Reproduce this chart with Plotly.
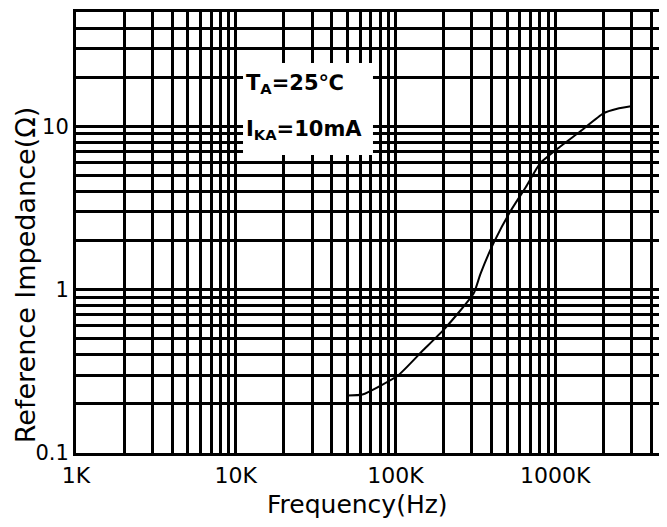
import plotly.graph_objects as go

# Data
freq_hz = [50e3, 62e3, 103e3, 147e3, 204e3, 308e3, 340e3, 414e3, 527e3,
           653e3, 807e3, 1.07e6, 1.43e6, 2.0e6, 2.44e6, 3.03e6]
impedance_ohm = [0.225, 0.228, 0.297, 0.421, 0.58, 0.946, 1.25, 1.96, 3.05,
                 4.24, 5.97, 7.5, 9.3, 12.0, 12.8, 13.3]

x_tick_vals = [1e3, 1e4, 1e5, 1e6]
x_tick_text = ["1K", "10K", "100K", "1000K"]
y_tick_vals = [0.1, 1, 10]
y_tick_text = ["0.1", "1", "10"]

x_minor = [m * 10 ** e for e in range(3, 7) for m in range(2, 10) if m * 10 ** e <= 5e6]
y_minor = [m * 10 ** e for e in range(-1, 2) for m in range(2, 10) if m * 10 ** e <= 50]

FONT = "DejaVu Sans"

fig = go.Figure()
fig.add_trace(go.Scatter(x=freq_hz, y=impedance_ohm, mode="lines",
                         line=dict(color="black", width=2, shape="spline", smoothing=0.5),
                         showlegend=False, hoverinfo="skip"))

grid_w = 2.5
fig.update_xaxes(type="log", range=[3, 6.699], automargin=False,
                 tickmode="array", tickvals=x_tick_vals, ticktext=x_tick_text,
                 showgrid=True, gridcolor="black", gridwidth=grid_w,
                 minor=dict(tickmode="array", tickvals=x_minor, showgrid=True,
                            gridcolor="black", gridwidth=grid_w, ticks=""),
                 showline=True, linecolor="black", linewidth=3, mirror=True,
                 ticks="", zeroline=False, ticklabelstandoff=1,
                 tickfont=dict(family=FONT, size=22, color="black"))
fig.update_yaxes(type="log", range=[-1, 1.7], automargin=False,
                 tickmode="array", tickvals=y_tick_vals, ticktext=y_tick_text,
                 showgrid=True, gridcolor="black", gridwidth=grid_w,
                 minor=dict(tickmode="array", tickvals=y_minor, showgrid=True,
                            gridcolor="black", gridwidth=grid_w, ticks=""),
                 showline=True, linecolor="black", linewidth=3, mirror=True,
                 ticks="", zeroline=False,
                 tickfont=dict(family=FONT, size=21, color="black"))

fig.add_shape(type="rect", xref="paper", yref="paper",
              x0=0.2826, x1=0.5025, y0=0.6757, y1=0.8844,
              fillcolor="white", line=dict(width=0), layer="above")

fig.add_annotation(xref="paper", yref="paper", x=0.284, y=0.837,
                   xanchor="left", yanchor="middle", showarrow=False,
                   text="<b>T<sub>A</sub>=25℃</b>",
                   font=dict(family=FONT, size=21, color="black"))
fig.add_annotation(xref="paper", yref="paper", x=0.284, y=0.732,
                   xanchor="left", yanchor="middle", showarrow=False,
                   text="<b>I<sub>KA</sub>=10mA</b>",
                   font=dict(family=FONT, size=21, color="black"))

fig.add_annotation(xref="paper", yref="paper", x=0.477, y=-0.116,
                   xanchor="center", yanchor="middle", showarrow=False,
                   text="Frequency(Hz)",
                   font=dict(family=FONT, size=25, color="black"))
fig.add_annotation(xref="paper", yref="paper", x=-0.086, y=0.4036,
                   xanchor="center", yanchor="middle", showarrow=False,
                   textangle=-90, text="Reference Impedance(Ω)",
                   font=dict(family=FONT, size=27, color="black"))

# The page body has an 8px margin, so the figure is sized to fill the rest
fig.update_layout(width=659, height=519,
                  margin=dict(l=68, r=0, t=4, b=74),
                  paper_bgcolor="white", plot_bgcolor="white")

fig.write_html("out.html")
